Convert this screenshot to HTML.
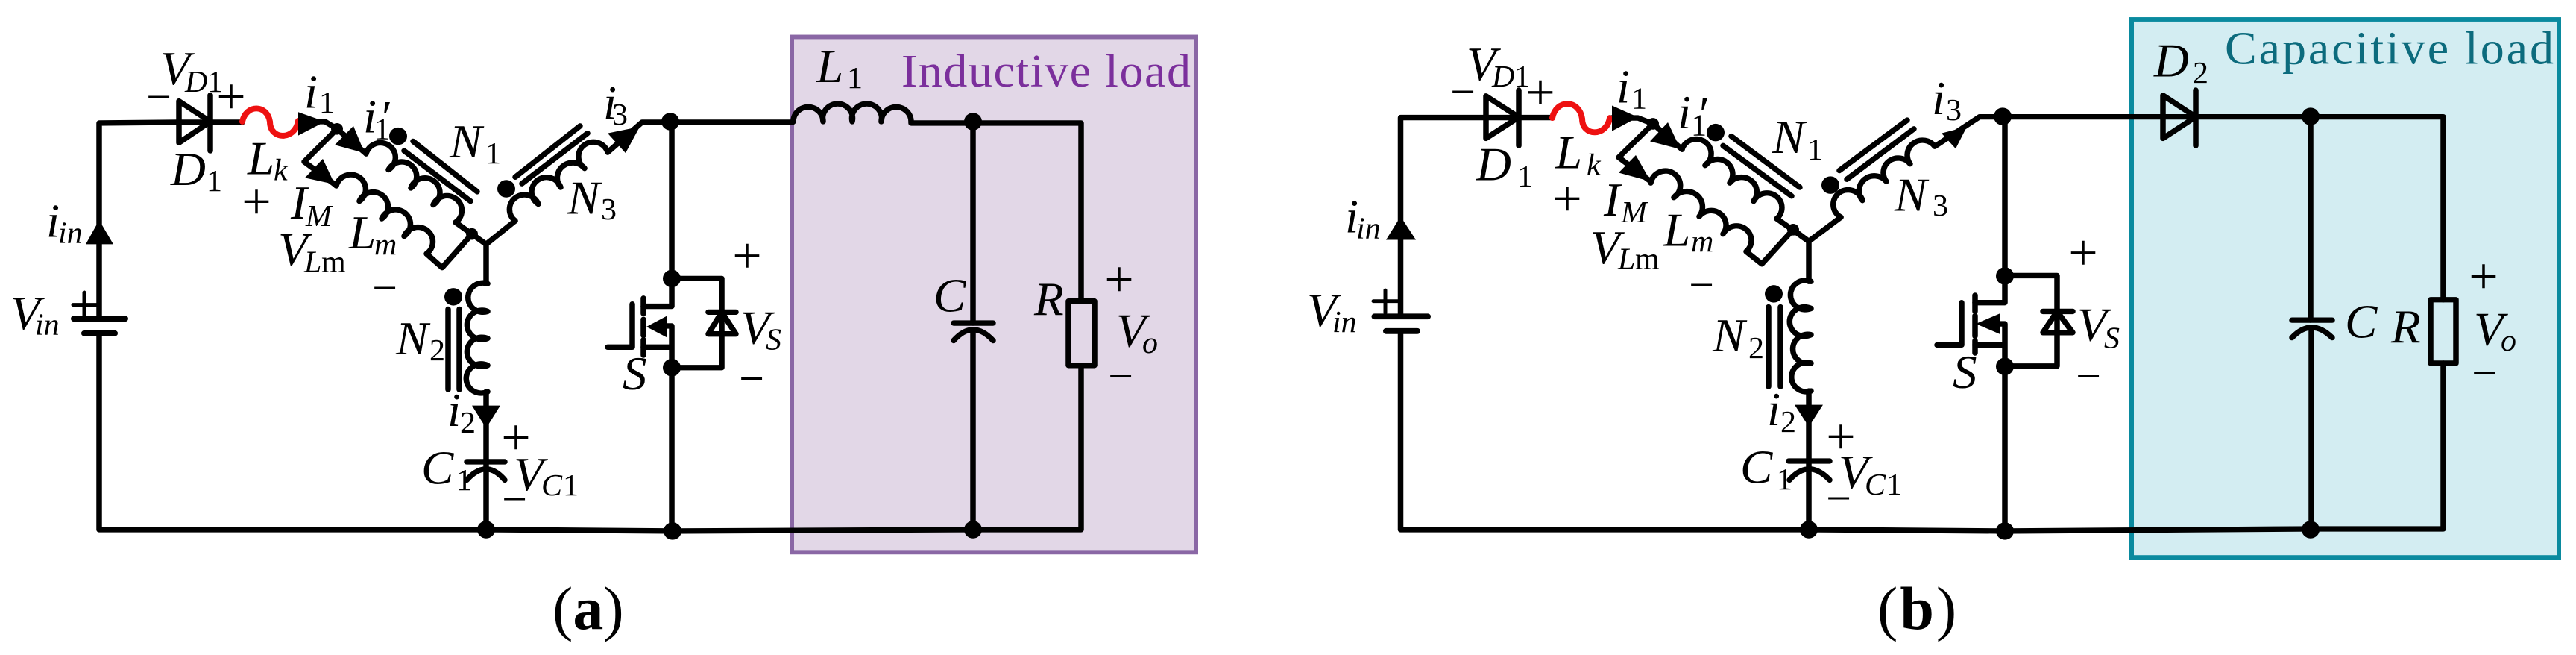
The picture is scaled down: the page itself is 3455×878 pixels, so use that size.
<!DOCTYPE html>
<html>
<head>
<meta charset="utf-8">
<title>Circuit diagram</title>
<style>
html,body{margin:0;padding:0;background:#fff;width:3455px;height:878px;overflow:hidden}
svg{display:block}
text{font-family:"Liberation Serif",serif;fill:#000}
.v{font-style:italic;font-size:65px}
.s{font-style:italic;font-size:42px}
.r{font-size:42px}
.p{font-size:70px;text-anchor:middle}
.m{font-size:60px;text-anchor:middle}
.w{fill:none;stroke:#000;stroke-width:7.5;stroke-linecap:round;stroke-linejoin:round}
.t{fill:none;stroke:#000;stroke-width:5;stroke-linecap:round}
.red{fill:none;stroke:#ee1111;stroke-width:8;stroke-linecap:round}
</style>
</head>
<body>
<svg width="3455" height="878" viewBox="0 0 3455 878" xmlns="http://www.w3.org/2000/svg">
<rect width="3455" height="878" fill="#fff"/>
<g transform="translate(0,-1.4) scale(1,0.9785)">

<!-- ============ PANEL A ============ -->
<rect x="1062" y="52" width="542" height="706" fill="#e2d7e7" stroke="#8a67a5" stroke-width="6"/>

<g class="w">
<path d="M133 438V170L240 169H325"/>
<path d="M133 458V727H652L902 729L1305 727H1450V502"/>
<path d="M99 438H168" stroke-width="8"/>
<path d="M113 458H154" stroke-width="8"/>
<path d="M240 140V197L282 168Z"/>
<path d="M282 132V208"/>
<path d="M400 168H436L452 178L491 212"/>
<path d="M491 212A20 20 0 1 1 521 234A20 20 0 1 1 551 259A20 20 0 1 1 581 282A20 20 0 1 1 611 306"/>
<path d="M611 306L652 336L633 322"/>
<path d="M452 178L408 223L449 254"/>
<path d="M451 256A20 20 0 1 1 482 277A20 20 0 1 1 512 301A20 20 0 1 1 542 325A20 20 0 1 1 572 349L593 368L633 322"/>
<path d="M691 304A20 20 0 1 1 722 281A20 20 0 1 1 752 258A20 20 0 1 1 784 232A20 20 0 1 1 815 210L861 169H1063"/>
<path d="M652 336L691 304"/>
<path d="M652 336V390"/>
<path d="M654 390A20 20 0 1 0 654 428A20 20 0 1 0 654 465A20 20 0 1 0 654 502A20 20 0 1 0 654 538"/>
<path d="M652 538V727"/>
<path d="M626 634H677"/>
<path d="M626 659Q652 629 677 659"/>
<path d="M554 195L640 264M542 208L631 277"/>
<path d="M778 174L691 244M788 184L700 253"/>
<path d="M601 425V535M616 425V535"/>
<path d="M901 168V421H863"/>
<path d="M863 410V431M863 439V461M863 467V488"/>
<path d="M848 418V477H815"/>
<path d="M863 477H901M895 448H901V505V729"/>
<path d="M901 383H968V505H900"/>
<path d="M950 429H987M950 459H987L968 429Z"/>
<path d="M1064 168A20 20 0 1 1 1104 168A20 20 0 1 1 1143 168A20 20 0 1 1 1182 168A20 20 0 1 1 1222 168L1222 170H1305H1450V414"/>
<path d="M1305 168V444M1305 453V727"/>
<path d="M1279 444H1332"/>
<path d="M1279 468Q1305 438 1332 468"/>
<rect x="1433" y="414" width="35" height="88"/>
</g>
<path class="red" d="M325 168C330 144 358 144 362 168C362 194 396 194 400 167"/>
<g fill="#000">
<path d="M133 303L115 336H152Z"/>
<path d="M400 155V187L436 168Z"/>
<path d="M474 174L449 200L489 211Z"/>
<path d="M433 219L409 245L449 254Z"/>
<path d="M815 184L858 175L839 211Z"/>
<path d="M633 557H671L652 588Z"/>
<path d="M867 449L895 434V464Z"/>
<circle cx="452" cy="178" r="8"/>
<circle cx="633" cy="322" r="8"/>
<circle cx="534" cy="188" r="12"/>
<circle cx="679" cy="260" r="12"/>
<circle cx="608" cy="408" r="12"/>
<circle cx="652" cy="727" r="12"/>
<circle cx="899" cy="168" r="12"/>
<circle cx="901" cy="383" r="12"/>
<circle cx="901" cy="505" r="12"/>
<circle cx="902" cy="729" r="12"/>
<circle cx="1305" cy="168" r="12"/>
<circle cx="1305" cy="727" r="12"/>
</g>
<path class="t" d="M98 419H132M113 402V436"/>

<text class="v" x="215" y="117">V</text><text class="s" x="248" y="127">D</text><text class="r" x="278" y="127">1</text>
<text class="m" x="213" y="154">−</text><text class="p" x="310" y="157">+</text>
<text class="v" x="229" y="255">D</text><text class="r" x="277" y="263">1</text>
<text class="v" x="332" y="240">L</text><text class="s" x="367" y="248">k</text>
<text class="p" x="344" y="301">+</text>
<text class="v" x="390" y="301">I</text><text class="s" x="410" y="311">M</text>
<text class="v" x="373" y="365">V</text><text class="s" x="408" y="374">L</text><text class="r" x="431" y="374">m</text>
<text class="v" x="468" y="342">L</text><text class="s" x="502" y="350">m</text>
<text class="m" x="516" y="416">−</text>
<text class="v" x="408" y="149">i</text><text class="r" x="428" y="156">1</text>
<text class="v" x="487" y="183">i</text><text class="r" x="502" y="192">1</text><text class="v" x="508" y="184">′</text>
<text class="v" x="603" y="217">N</text><text class="r" x="651" y="225">1</text>
<text class="v" x="809" y="164">i</text><text class="r" x="821" y="172">3</text>
<text class="v" x="761" y="294">N</text><text class="r" x="806" y="302">3</text>
<text class="v" x="531" y="487">N</text><text class="r" x="576" y="495">2</text>
<text class="v" x="600" y="585">i</text><text class="r" x="617" y="594">2</text>
<text class="v" x="565" y="664">C</text><text class="r" x="612" y="673">1</text>
<text class="p" x="692" y="624">+</text>
<text class="v" x="689" y="673">V</text><text class="s" x="726" y="680">C</text><text class="r" x="755" y="680">1</text>
<text class="m" x="690" y="705">−</text>
<text class="v" x="62" y="326">i</text><text class="s" x="78" y="334">in</text>
<text class="v" x="14" y="452">V</text><text class="s" x="47" y="460">in</text>
<text class="v" x="835" y="535">S</text>
<text class="v" x="993" y="472">V</text><text class="s" x="1027" y="480">S</text>
<text class="p" x="1002" y="375">+</text><text class="m" x="1008" y="540">−</text>
<text class="v" x="1095" y="114">L</text><text class="r" x="1136" y="122">1</text>
<text x="1209" y="120" font-size="64" textLength="388" lengthAdjust="spacing" style="fill:#7b2f9c">Inductive load</text>
<text class="v" x="1252" y="428">C</text>
<text class="v" x="1387" y="433">R</text>
<text class="p" x="1501" y="407">+</text>
<text class="v" x="1497" y="476">V</text><text class="s" x="1532" y="485">o</text>
<text class="m" x="1503" y="537">−</text>

<!-- ============ PANEL B ============ -->
<rect x="2859" y="28" width="573" height="737" fill="#d3edf2" stroke="#0a8a9f" stroke-width="6"/>

<g class="w">
<path d="M1878.5 435V162.5H2082"/>
<path d="M1878.5 455V727H2426L2689 729L3099 726H3277V499"/>
<path d="M1843.5 435H1915" stroke-width="8"/>
<path d="M1859 455H1901" stroke-width="8"/>
<path d="M1993 133V191L2037 162Z"/>
<path d="M2037 125V201"/>
<path d="M2159 163H2197L2217 171L2256 206"/>
<path d="M2256 206A20 20 0 1 1 2287 228A20 20 0 1 1 2320 252A20 20 0 1 1 2352 277A20 20 0 1 1 2383 301"/>
<path d="M2383 301L2426 332L2405 316"/>
<path d="M2217 171L2171 217L2214 250"/>
<path d="M2214 252A20 20 0 1 1 2245 272A20 20 0 1 1 2279 298A20 20 0 1 1 2311 322A20 20 0 1 1 2342 346L2363 363L2405 316"/>
<path d="M2469 299A20 20 0 1 1 2498 276A20 20 0 1 1 2530 250A20 20 0 1 1 2562 226A20 20 0 0 1 2595 202L2655 161.5H2901"/>
<path d="M2426 332L2469 299"/>
<path d="M2426 332V387"/>
<path d="M2429 387A20 20 0 1 0 2429 424A20 20 0 1 0 2429 460A20 20 0 1 0 2429 499A20 20 0 1 0 2429 537"/>
<path d="M2426 537V727"/>
<path d="M2399 633H2454"/>
<path d="M2400 659Q2426 629 2454 659"/>
<path d="M2322 188L2414 258M2311 201L2403 270"/>
<path d="M2558 166L2467 235M2567 178L2477 247"/>
<path d="M2372 422V531M2388 422V531"/>
<path d="M2689 161V416H2649"/>
<path d="M2649 406V428M2649 434V462M2649 468V485"/>
<path d="M2631 416V474H2598"/>
<path d="M2649 474H2689M2682 445H2689V729"/>
<path d="M2689 379H2759V503H2689"/>
<path d="M2740 428H2780M2740 457H2780L2759 428Z"/>
<path d="M2901 132V191L2945 161.5Z"/>
<path d="M2945 125V201"/>
<path d="M2901 161.5H3277V412"/>
<path d="M3099 161V440M3100 451V727"/>
<path d="M3074 440H3128"/>
<path d="M3074 464Q3100 436 3128 464"/>
<rect x="3260" y="412" width="34" height="87"/>
</g>
<path class="red" d="M2082 163C2087 137 2118 137 2122 164C2122 189 2155 189 2159 163"/>
<g fill="#000">
<path d="M1878.5 298L1859 330H1899Z"/>
<path d="M2162 146V181L2197 162Z"/>
<path d="M2237 169L2213 195L2254 206Z"/>
<path d="M2194 214L2171 238L2214 250Z"/>
<path d="M2604 184L2638 175L2623 205Z"/>
<path d="M2407 556H2445L2426 586Z"/>
<path d="M2650 445L2682 431V459Z"/>
<circle cx="2217" cy="171" r="8"/>
<circle cx="2405" cy="316" r="8"/>
<circle cx="2301" cy="183" r="12"/>
<circle cx="2455" cy="255" r="12"/>
<circle cx="2379" cy="404" r="12"/>
<circle cx="2426" cy="727" r="12"/>
<circle cx="2686" cy="161" r="12"/>
<circle cx="2689" cy="379.5" r="12"/>
<circle cx="2689" cy="503.5" r="12"/>
<circle cx="2689" cy="729" r="12"/>
<circle cx="3099" cy="161" r="12"/>
<circle cx="3099" cy="727" r="12"/>
</g>
<path class="t" d="M1842 414H1875M1858 399V430"/>

<text class="v" x="1967" y="111">V</text><text class="s" x="2001" y="120">D</text><text class="r" x="2031" y="120">1</text>
<text class="m" x="1962" y="147">−</text><text class="p" x="2066" y="151">+</text>
<text class="v" x="1980" y="248">D</text><text class="r" x="2035" y="257">1</text>
<text class="v" x="2086" y="232">L</text><text class="s" x="2128" y="241">k</text>
<text class="p" x="2102" y="297">+</text>
<text class="v" x="2151" y="297">I</text><text class="s" x="2174" y="306">M</text>
<text class="v" x="2133" y="362">V</text><text class="s" x="2170" y="370">L</text><text class="r" x="2193" y="370">m</text>
<text class="v" x="2231" y="338">L</text><text class="s" x="2268" y="346">m</text>
<text class="m" x="2282" y="412">−</text>
<text class="v" x="2168" y="142">i</text><text class="r" x="2188" y="150">1</text>
<text class="v" x="2250" y="177">i</text><text class="r" x="2268" y="187">1</text><text class="v" x="2275" y="179">′</text>
<text class="v" x="2377" y="211">N</text><text class="r" x="2424" y="220">1</text>
<text class="v" x="2591" y="158">i</text><text class="r" x="2610" y="166">3</text>
<text class="v" x="2541" y="290">N</text><text class="r" x="2592" y="297">3</text>
<text class="v" x="2297" y="483">N</text><text class="r" x="2345" y="492">2</text>
<text class="v" x="2370" y="584">i</text><text class="r" x="2388" y="593">2</text>
<text class="v" x="2334" y="663">C</text><text class="r" x="2383" y="672">1</text>
<text class="p" x="2469" y="623">+</text>
<text class="v" x="2466" y="670">V</text><text class="s" x="2501" y="679">C</text><text class="r" x="2530" y="679">1</text>
<text class="m" x="2466" y="704">−</text>
<text class="v" x="1804" y="320">i</text><text class="s" x="1819" y="328">in</text>
<text class="v" x="1753" y="448">V</text><text class="s" x="1787" y="456">in</text>
<text class="v" x="2619" y="533">S</text>
<text class="v" x="2786" y="468">V</text><text class="s" x="2822" y="478">S</text>
<text class="p" x="2794" y="371">+</text><text class="m" x="2801" y="537">−</text>
<text class="v" x="2889" y="106">D</text><text class="r" x="2941" y="115">2</text>
<text x="2984" y="89" font-size="64" textLength="441" lengthAdjust="spacing" style="fill:#0c6b7d">Capacitive load</text>
<text class="v" x="3145" y="464">C</text>
<text class="v" x="3207" y="471">R</text>
<text class="p" x="3331" y="403">+</text>
<text class="v" x="3318" y="474">V</text><text class="s" x="3354" y="482">o</text>
<text class="m" x="3332" y="533">−</text>
</g>
<text x="741" y="843" font-size="82">(<tspan font-weight="bold">a</tspan>)</text>
<text x="2518" y="843" font-size="82" letter-spacing="3">(<tspan font-weight="bold">b</tspan>)</text>
</svg>
</body>
</html>
